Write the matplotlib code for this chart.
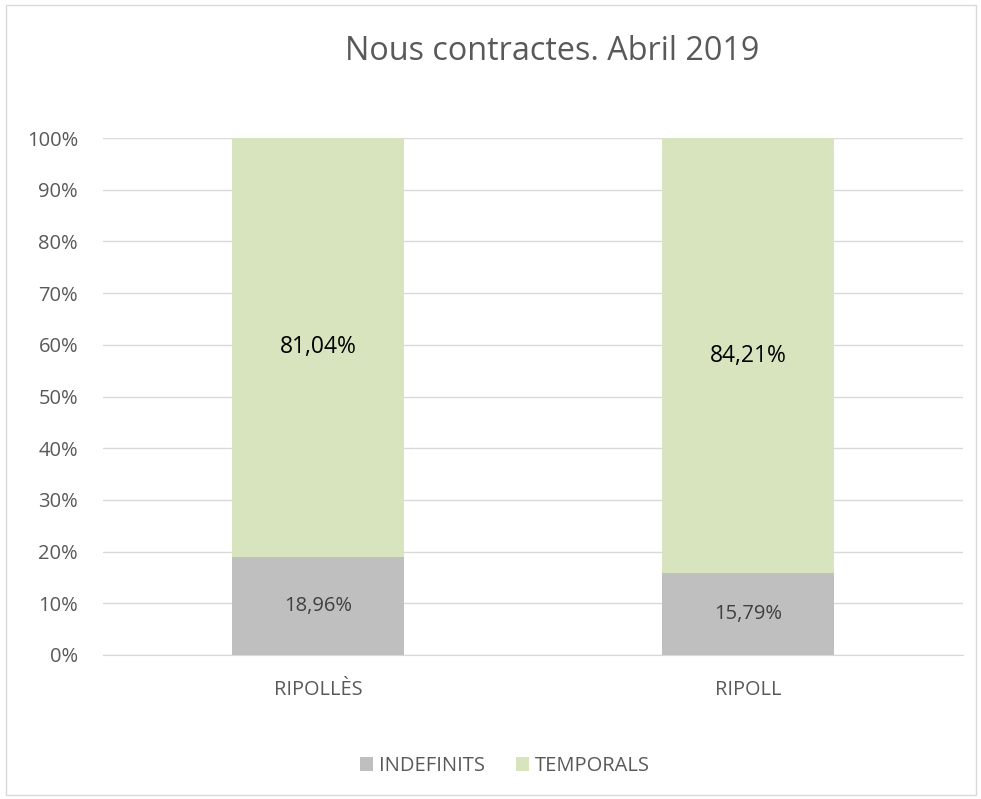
import matplotlib.pyplot as plt
from matplotlib.patches import Rectangle
from matplotlib.ticker import FuncFormatter

categories = ['RIPOLLÈS', 'RIPOLL']
indefinits = [18.96, 15.79]
temporals = [81.04, 84.21]
series_names = ['INDEFINITS', 'TEMPORALS']
title = 'Nous contractes. Abril 2019'

plt.rcParams['font.family'] = ['Open Sans', 'DejaVu Sans']

fig = plt.figure(figsize=(9.81, 7.99), dpi=100)
ax = fig.add_axes([103 / 981, 1 - 655 / 799, 860 / 981, (655 - 138) / 799])

x = list(range(len(categories)))
b1 = ax.bar(x, indefinits, width=0.4, color='#BFBFBF', label=series_names[0], zorder=2)
b2 = ax.bar(x, temporals, width=0.4, bottom=indefinits, color='#D7E4BD', label=series_names[1], zorder=2)

for i in x:
    ax.text(i, indefinits[i] / 2, f'{indefinits[i]:.2f}%'.replace('.', ','),
            ha='center', va='center', fontsize=14.5, color='#404040')
    ax.text(i, indefinits[i] + temporals[i] / 2, f'{temporals[i]:.2f}%'.replace('.', ','),
            ha='center', va='center', fontsize=16.5, color='black')

ax.set_xlim(-0.5, 1.5)
ax.set_ylim(0, 100)
ax.set_yticks(range(0, 101, 10))
ax.yaxis.set_major_formatter(FuncFormatter(lambda v, p: f'{int(v)}%'))
ax.set_xticks(x)
ax.set_xticklabels(categories)
ax.tick_params(axis='both', length=0, colors='#595959')
ax.tick_params(axis='y', labelsize=14.5, pad=18)
ax.tick_params(axis='x', labelsize=14.3, pad=18)
ax.grid(axis='y', color='#D9D9D9', linewidth=1, zorder=0)
for s in ['top', 'right', 'left']:
    ax.spines[s].set_visible(False)
ax.spines['bottom'].set_color('#D9D9D9')

fig.text(552 / 981, 1 - 51 / 799, title, ha='center', va='center', fontsize=23.3, color='#595959')

fig.legend(handles=[b1, b2], labels=series_names, loc='center', bbox_to_anchor=(505 / 981, 1 - 766 / 799),
           ncol=2, frameon=False, fontsize=14.5, labelcolor='#595959',
           handlelength=0.65, handleheight=0.65, handletextpad=0.3, columnspacing=1.5)

fig.patches.append(Rectangle((6 / 981, 4 / 799), 970 / 981, 790 / 799, transform=fig.transFigure,
                             fill=False, edgecolor='#D9D9D9', linewidth=1))

fig.savefig('out.png', dpi=100)
